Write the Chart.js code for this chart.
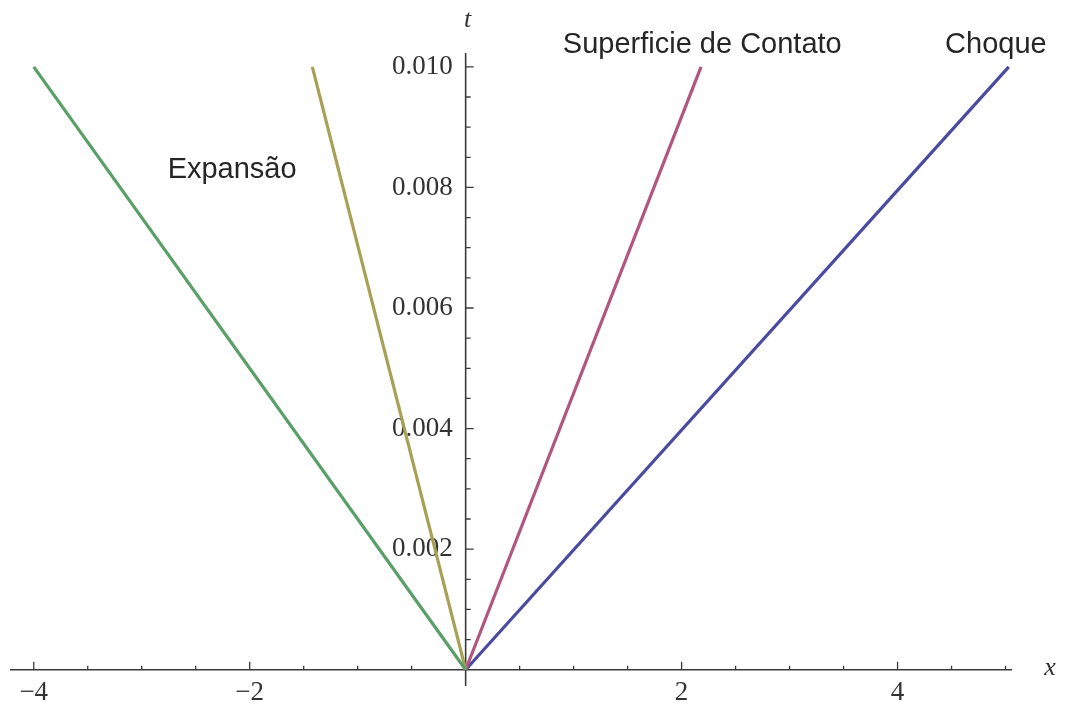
<!DOCTYPE html>
<html>
<head>
<meta charset="utf-8">
<script src="https://cdn.jsdelivr.net/npm/chart.js@4.4.1/dist/chart.umd.min.js"></script>
<style>
  html, body { margin: 0; padding: 0; background: #ffffff; }
  #wrap { width: 1069px; height: 707px; }
</style>
</head>
<body>
<div id="wrap"><canvas id="c" width="1069" height="707"></canvas></div>
<script>
// ---- data ----
const lineT       = [0, 0.010];     // t at the two ends of every characteristic line
const headX       = [0, -4.00];     // Expansão (cabeça)
const tailX       = [0, -1.42];     // Expansão (cauda)
const contactX    = [0, 2.18];      // Superficie de Contato
const shockX      = [0, 5.03];      // Choque
const xTickLabels = [-4, -2, 2, 4];
const tTickLabels = [0.002, 0.004, 0.006, 0.008, 0.010];

// annotations (text + anchor in data coordinates)
const noteTexts = ['Expansão', 'Superficie de Contato', 'Choque'];
const noteX     = [-2.76, 0.90, 4.44];
const noteT     = [0.00816, 0.01023, 0.01023];

// axis extents
const xMin = -4.22, xMax = 5.06;
const tMin = -0.00027, tMax = 0.01023;

// ---- styles ----
const colors = ['#5a9e68', '#a8a055', '#b0567f', '#4a4aa0'];
const axisColor = '#3a3a3a';

function pts(xs, ts) { return xs.map((x, i) => ({ x: x, y: ts[i] })); }

const seriesList = [
  { label: 'Expansão (cabeça)', data: pts(headX, lineT) },
  { label: 'Expansão (cauda)', data: pts(tailX, lineT) },
  { label: 'Superficie de Contato', data: pts(contactX, lineT) },
  { label: 'Choque', data: pts(shockX, lineT) }
];

const axesPlugin = {
  id: 'axesPlugin',
  beforeDatasetsDraw(chart) {
    const ctx = chart.ctx;
    const xs = chart.scales.x, ys = chart.scales.y;
    const x0 = xs.getPixelForValue(0), y0 = ys.getPixelForValue(0);
    ctx.save();
    ctx.strokeStyle = axisColor;
    ctx.lineWidth = 1.6;
    ctx.beginPath();
    ctx.moveTo(xs.getPixelForValue(xMin), y0);
    ctx.lineTo(xs.getPixelForValue(xMax), y0);
    ctx.moveTo(x0, ys.getPixelForValue(tMin));
    ctx.lineTo(x0, ys.getPixelForValue(tMax));
    ctx.stroke();
    ctx.lineWidth = 1.3;
    ctx.beginPath();
    for (let k = -8; k <= 10; k++) {
      if (k === 0) continue;
      const v = k * 0.5;
      const px = xs.getPixelForValue(v);
      const len = (k % 4 === 0) ? 8 : 4;
      ctx.moveTo(px, y0);
      ctx.lineTo(px, y0 - len);
    }
    for (let k = 1; k <= 20; k++) {
      const v = k * 0.0005;
      const py = ys.getPixelForValue(v);
      const len = (k % 4 === 0) ? 8 : 5;
      ctx.moveTo(x0, py);
      ctx.lineTo(x0 + len, py);
    }
    ctx.stroke();
    ctx.restore();
  },
  afterDatasetsDraw(chart) {
    const ctx = chart.ctx;
    const xs = chart.scales.x, ys = chart.scales.y;
    ctx.save();
    ctx.fillStyle = '#262626';
    ctx.font = '29px "Liberation Sans", Arial, sans-serif';
    ctx.textAlign = 'left';
    ctx.textBaseline = 'alphabetic';
    noteTexts.forEach((t, i) => {
      ctx.fillText(t, xs.getPixelForValue(noteX[i]), ys.getPixelForValue(noteT[i]));
    });
    ctx.fillStyle = '#333333';
    ctx.font = 'italic 26px "Liberation Serif", serif';
    ctx.textAlign = 'center';
    ctx.textBaseline = 'middle';
    ctx.fillText('x', xs.getPixelForValue(xMax) + 38, ys.getPixelForValue(0) - 2);
    ctx.fillText('t', xs.getPixelForValue(0) + 2, ys.getPixelForValue(tMax) - 33);
    ctx.restore();
  }
};

new Chart(document.getElementById('c'), {
  type: 'scatter',
  data: {
    datasets: seriesList.map((s, i) => ({
      label: s.label,
      data: s.data,
      showLine: true,
      borderColor: colors[i],
      backgroundColor: colors[i],
      borderWidth: 3.2,
      pointRadius: 0,
      tension: 0
    }))
  },
  options: {
    responsive: false,
    animation: false,
    layout: { padding: { left: 10, right: 57, top: 53, bottom: 21 } },
    plugins: { legend: { display: false }, tooltip: { enabled: false } },
    scales: {
      x: {
        type: 'linear',
        position: { y: 0 },
        min: xMin, max: xMax,
        grid: { display: false, drawTicks: false, tickLength: 0 },
        border: { display: false },
        afterBuildTicks: s => { s.ticks = xTickLabels.map(v => ({ value: v })); },
        ticks: {
          autoSkip: false, maxRotation: 0, padding: 7, color: '#333333',
          font: { family: '"Liberation Serif", serif', size: 27 },
          callback: v => (v < 0 ? '\u2212' + Math.abs(v) : String(v))
        }
      },
      y: {
        type: 'linear',
        position: { x: -0.12 },
        min: tMin, max: tMax,
        grid: { display: false, drawTicks: false, tickLength: 0 },
        border: { display: false },
        afterBuildTicks: s => { s.ticks = tTickLabels.map(v => ({ value: v })); },
        ticks: {
          autoSkip: false, padding: 0, color: '#333333',
          font: { family: '"Liberation Serif", serif', size: 27 },
          callback: v => Number(v).toFixed(3)
        }
      }
    }
  },
  plugins: [axesPlugin]
});
</script>
</body>
</html>
